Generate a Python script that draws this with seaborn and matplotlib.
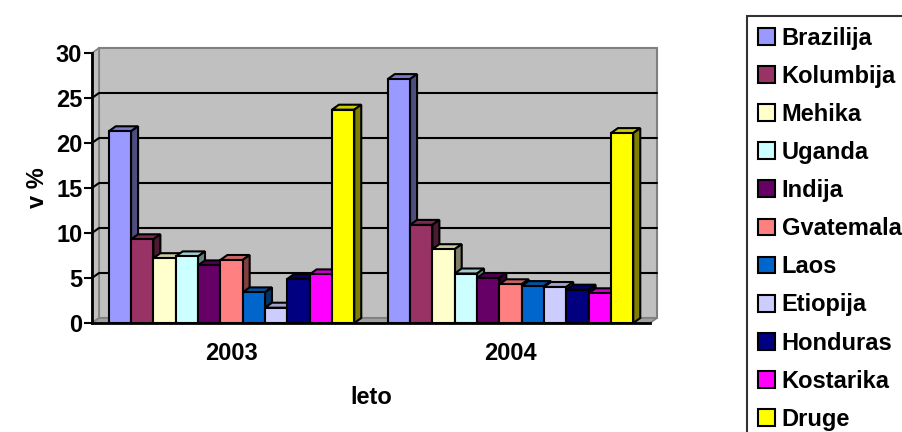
import matplotlib
matplotlib.use("Agg")
import matplotlib.pyplot as plt
import matplotlib.colors as mcolors
from matplotlib.patches import Polygon, Patch
import seaborn as sns
import pandas as pd

years = ["2003", "2004"]
countries = ["Brazilija", "Kolumbija", "Mehika", "Uganda", "Indija", "Gvatemala",
             "Laos", "Etiopija", "Honduras", "Kostarika", "Druge"]
values_2003 = [21.3, 9.3, 7.2, 7.4, 6.4, 7.0, 3.4, 1.7, 4.9, 5.4, 23.7]
values_2004 = [27.1, 10.9, 8.2, 5.5, 5.0, 4.3, 4.1, 4.0, 3.7, 3.3, 21.1]
colors = ["#9999FF", "#993366", "#FFFFCC", "#CCFFFF", "#660066", "#FF8080",
          "#0066CC", "#CCCCFF", "#000080", "#FF00FF", "#FFFF00"]
y_ticks = [0, 5, 10, 15, 20, 25, 30]

rows = []
for y, vals in zip(years, [values_2003, values_2004]):
    for c, v in zip(countries, vals):
        rows.append({"leto": y, "drzava": c, "v": v})
df = pd.DataFrame(rows)

sns.set_style("white")
plt.rcParams["font.family"] = ["Liberation Sans", "DejaVu Sans"]
plt.rcParams["font.weight"] = "bold"
for k in ["text.color", "axes.labelcolor", "xtick.color", "ytick.color"]:
    plt.rcParams[k] = "black"

FS = 17
fig = plt.figure(figsize=(9.02, 4.32), dpi=100)
ax = fig.add_axes([92 / 902, 1 - 323 / 432, (650 - 92) / 902, (323 - 53) / 432])
ax.set_facecolor("none")

sns.barplot(data=df, x="leto", y="v", hue="drzava", hue_order=countries,
            palette=colors, saturation=1, width=0.88, edgecolor="black",
            linewidth=1.5, legend=False, ax=ax, zorder=3)

ax.set_ylim(0, 30)
ax.set_xlim(-0.5, 1.5)
ax.set_yticks(y_ticks)
ax.set_yticklabels([str(t) for t in y_ticks], fontsize=FS, fontweight="bold")
ax.set_xticks([0, 1])
ax.set_xticklabels(years, fontsize=FS, fontweight="bold")
ax.set_xticks([-0.5, 0.5, 1.5], minor=True)
ax.tick_params(axis="x", which="major", length=0, pad=14)
ax.tick_params(axis="x", which="minor", length=6, width=1.5, color="black", direction="out")
ax.tick_params(axis="y", length=6, width=1.5, color="black", direction="out", left=True, pad=1)
ax.grid(False)
for s in ["left", "bottom"]:
    ax.spines[s].set_color("black")
    ax.spines[s].set_linewidth(2)
    ax.spines[s].set_zorder(4)
for s in ["top", "right"]:
    ax.spines[s].set_visible(False)

ax.set_xlabel("leto", fontsize=FS, fontweight="bold", labelpad=15)
ax.set_ylabel("v %", fontsize=FS, fontweight="bold", labelpad=5)

# 3D depth offsets (display pixels -> data units)
fig.canvas.draw()
inv = ax.transData.inverted()
p0 = inv.transform((0, 0))
p1 = inv.transform((7, 5))
ddx, ddy = p1[0] - p0[0], p1[1] - p0[1]
x0, x1 = ax.get_xlim()
y0, y1 = ax.get_ylim()

wall = "#C0C0C0"
wall_edge = "#808080"
ax.add_patch(Polygon([(x0 + ddx, y0 + ddy), (x1 + ddx, y0 + ddy), (x1 + ddx, y1 + ddy), (x0 + ddx, y1 + ddy)],
                     closed=True, facecolor=wall, edgecolor=wall_edge, linewidth=1.5, zorder=0.5, clip_on=False))
ax.add_patch(Polygon([(x0, y0), (x0, y1), (x0 + ddx, y1 + ddy), (x0 + ddx, y0 + ddy)],
                     closed=True, facecolor=wall, edgecolor=wall_edge, linewidth=1.2, zorder=0.6, clip_on=False))
ax.add_patch(Polygon([(x0, y0), (x1, y0), (x1 + ddx, y0 + ddy), (x0 + ddx, y0 + ddy)],
                     closed=True, facecolor="#A0A0A0", edgecolor=wall_edge, linewidth=1.2, zorder=0.6, clip_on=False))
for t in y_ticks[1:-1]:
    ax.plot([x0, x0 + ddx, x1 + ddx], [t, t + ddy, t + ddy], color="black", linewidth=1.5,
            zorder=0.7, clip_on=False)

for cont in ax.containers:
    for bar in cont:
        x, w, h = bar.get_x(), bar.get_width(), bar.get_height()
        fc = mcolors.to_rgb(bar.get_facecolor())
        top_c = tuple(0.8 * c for c in fc)
        side_c = tuple(0.5 * c for c in fc)
        ax.add_patch(Polygon([(x, h), (x + w, h), (x + w + ddx, h + ddy), (x + ddx, h + ddy)],
                             closed=True, facecolor=top_c, edgecolor="black", linewidth=1.5,
                             zorder=2.9, clip_on=False))
        ax.add_patch(Polygon([(x + w, 0), (x + w, h), (x + w + ddx, h + ddy), (x + w + ddx, ddy)],
                             closed=True, facecolor=side_c, edgecolor="black", linewidth=1.5,
                             zorder=2.9, clip_on=False))

handles = [Patch(facecolor=c, edgecolor="black", linewidth=1.5) for c in colors]
leg = fig.legend(handles, countries, loc="upper left",
                 bbox_to_anchor=(747 / 902, 1 - 16 / 432),
                 prop={"family": ["Liberation Sans", "DejaVu Sans"], "weight": "bold", "size": FS},
                 handlelength=0.72, handleheight=0.72, handletextpad=0.3,
                 labelspacing=0.64, borderpad=0.45, borderaxespad=0,
                 frameon=True, fancybox=False)
leg.get_frame().set_edgecolor("black")
leg.get_frame().set_linewidth(1.5)

fig.savefig("out.png", dpi=100)
